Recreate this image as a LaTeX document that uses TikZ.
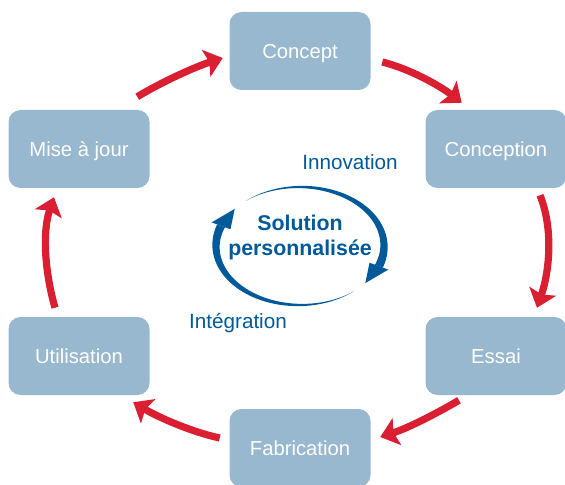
\documentclass[tikz,border=0pt]{standalone}
\usepackage{fontspec}
\setmainfont{Liberation Sans}
\usetikzlibrary{arrows.meta,calc}
\definecolor{boxblue}{HTML}{98B8CF}
\definecolor{cycred}{HTML}{DA1F33}
\definecolor{darkblue}{HTML}{005A9A}
\begin{document}
\begin{tikzpicture}[x=0.75pt,y=-0.75pt,
  stage/.style={fill=boxblue, rounded corners=9pt, minimum width=105.75pt, minimum height=58.5pt, inner sep=0pt, text=white, text height=10.8pt, text depth=0pt, font=\fontsize{15.2}{18}\selectfont},
  redarrow/.style={draw=cycred, line width=5.4pt, -{Stealth[length=13pt,width=21pt,inset=2.5pt]}},
  lbl/.style={text=darkblue, font=\fontsize{15.5}{18}\selectfont}]
\useasboundingbox (0,0) rectangle (565,485);
% stages
\node[stage] (concept) at (300,51) {Concept};
\node[stage] (conception) at (496,149) {Conception};
\node[stage] (essai) at (496,356) {Essai};
\node[stage] (fab) at (300,448) {Fabrication};
\node[stage] (util) at (79,356) {Utilisation};
\node[stage] (maj) at (79,149) {Mise à jour};
% red cycle arrows
\draw[redarrow] ($(maj.north east)+(-12.5,-13)$) .. controls +(25,-15) and +(-28,9) .. ($(concept.west)+(-6.5,7)$);
\draw[redarrow] ($(concept.east)+(11.5,11)$) .. controls +(28,7) and +(-22,-17) .. ($(conception.north west)+(36.5,-7)$);
\draw[redarrow] ($(conception.south)+(44,7)$) .. controls +(14,35) and +(12,-35) .. ($(essai.north)+(41,-9)$);
\draw[redarrow] ($(essai.south)+(-37,5)$) .. controls +(-22,13) and +(28,-9) .. ($(fab.east)+(9.5,-11)$);
\draw[redarrow] ($(fab.west)+(-9.5,-10)$) .. controls +(-28,-6) and +(25,15) .. ($(util.south east)+(-16.5,7)$);
\draw[redarrow] ($(util.north)+(-24,-9)$) .. controls +(-10,-35) and +(-12,35) .. ($(maj.south)+(-25,9)$);
% central blue tapered arcs
\fill[darkblue] plot[domain=230:380,samples=60] ({300+(84+4.2*(\x-230)/150)*cos(\x)},{246+(59+4.2*(\x-230)/150)*sin(\x)})
  -- plot[domain=380:230,samples=60] ({300+(84-4.2*(\x-230)/150)*cos(\x)},{246+(59-4.2*(\x-230)/150)*sin(\x)}) -- cycle;
\fill[darkblue] ({300+94*cos(380)},{246+69*sin(380)}) -- ({300+84*cos(399)},{246+59*sin(399)}) -- ({300+74*cos(380)},{246+49*sin(380)}) -- cycle;
\fill[darkblue] plot[domain=50:200,samples=60] ({300+(84+4.2*(\x-50)/150)*cos(\x)},{246+(59+4.2*(\x-50)/150)*sin(\x)})
  -- plot[domain=200:50,samples=60] ({300+(84-4.2*(\x-50)/150)*cos(\x)},{246+(59-4.2*(\x-50)/150)*sin(\x)}) -- cycle;
\fill[darkblue] ({300+94*cos(200)},{246+69*sin(200)}) -- ({300+84*cos(219)},{246+59*sin(219)}) -- ({300+74*cos(200)},{246+49*sin(200)}) -- cycle;
% labels
\node[text=darkblue, align=center, font=\bfseries\fontsize{16}{18.75}\selectfont] (sol) at (300,237) {Solution\\personnalisée};
\node[lbl] (innov) at (350,162) {Innovation};
\node[lbl] (integ) at (238,323) {Intégration};
\end{tikzpicture}
\end{document}
